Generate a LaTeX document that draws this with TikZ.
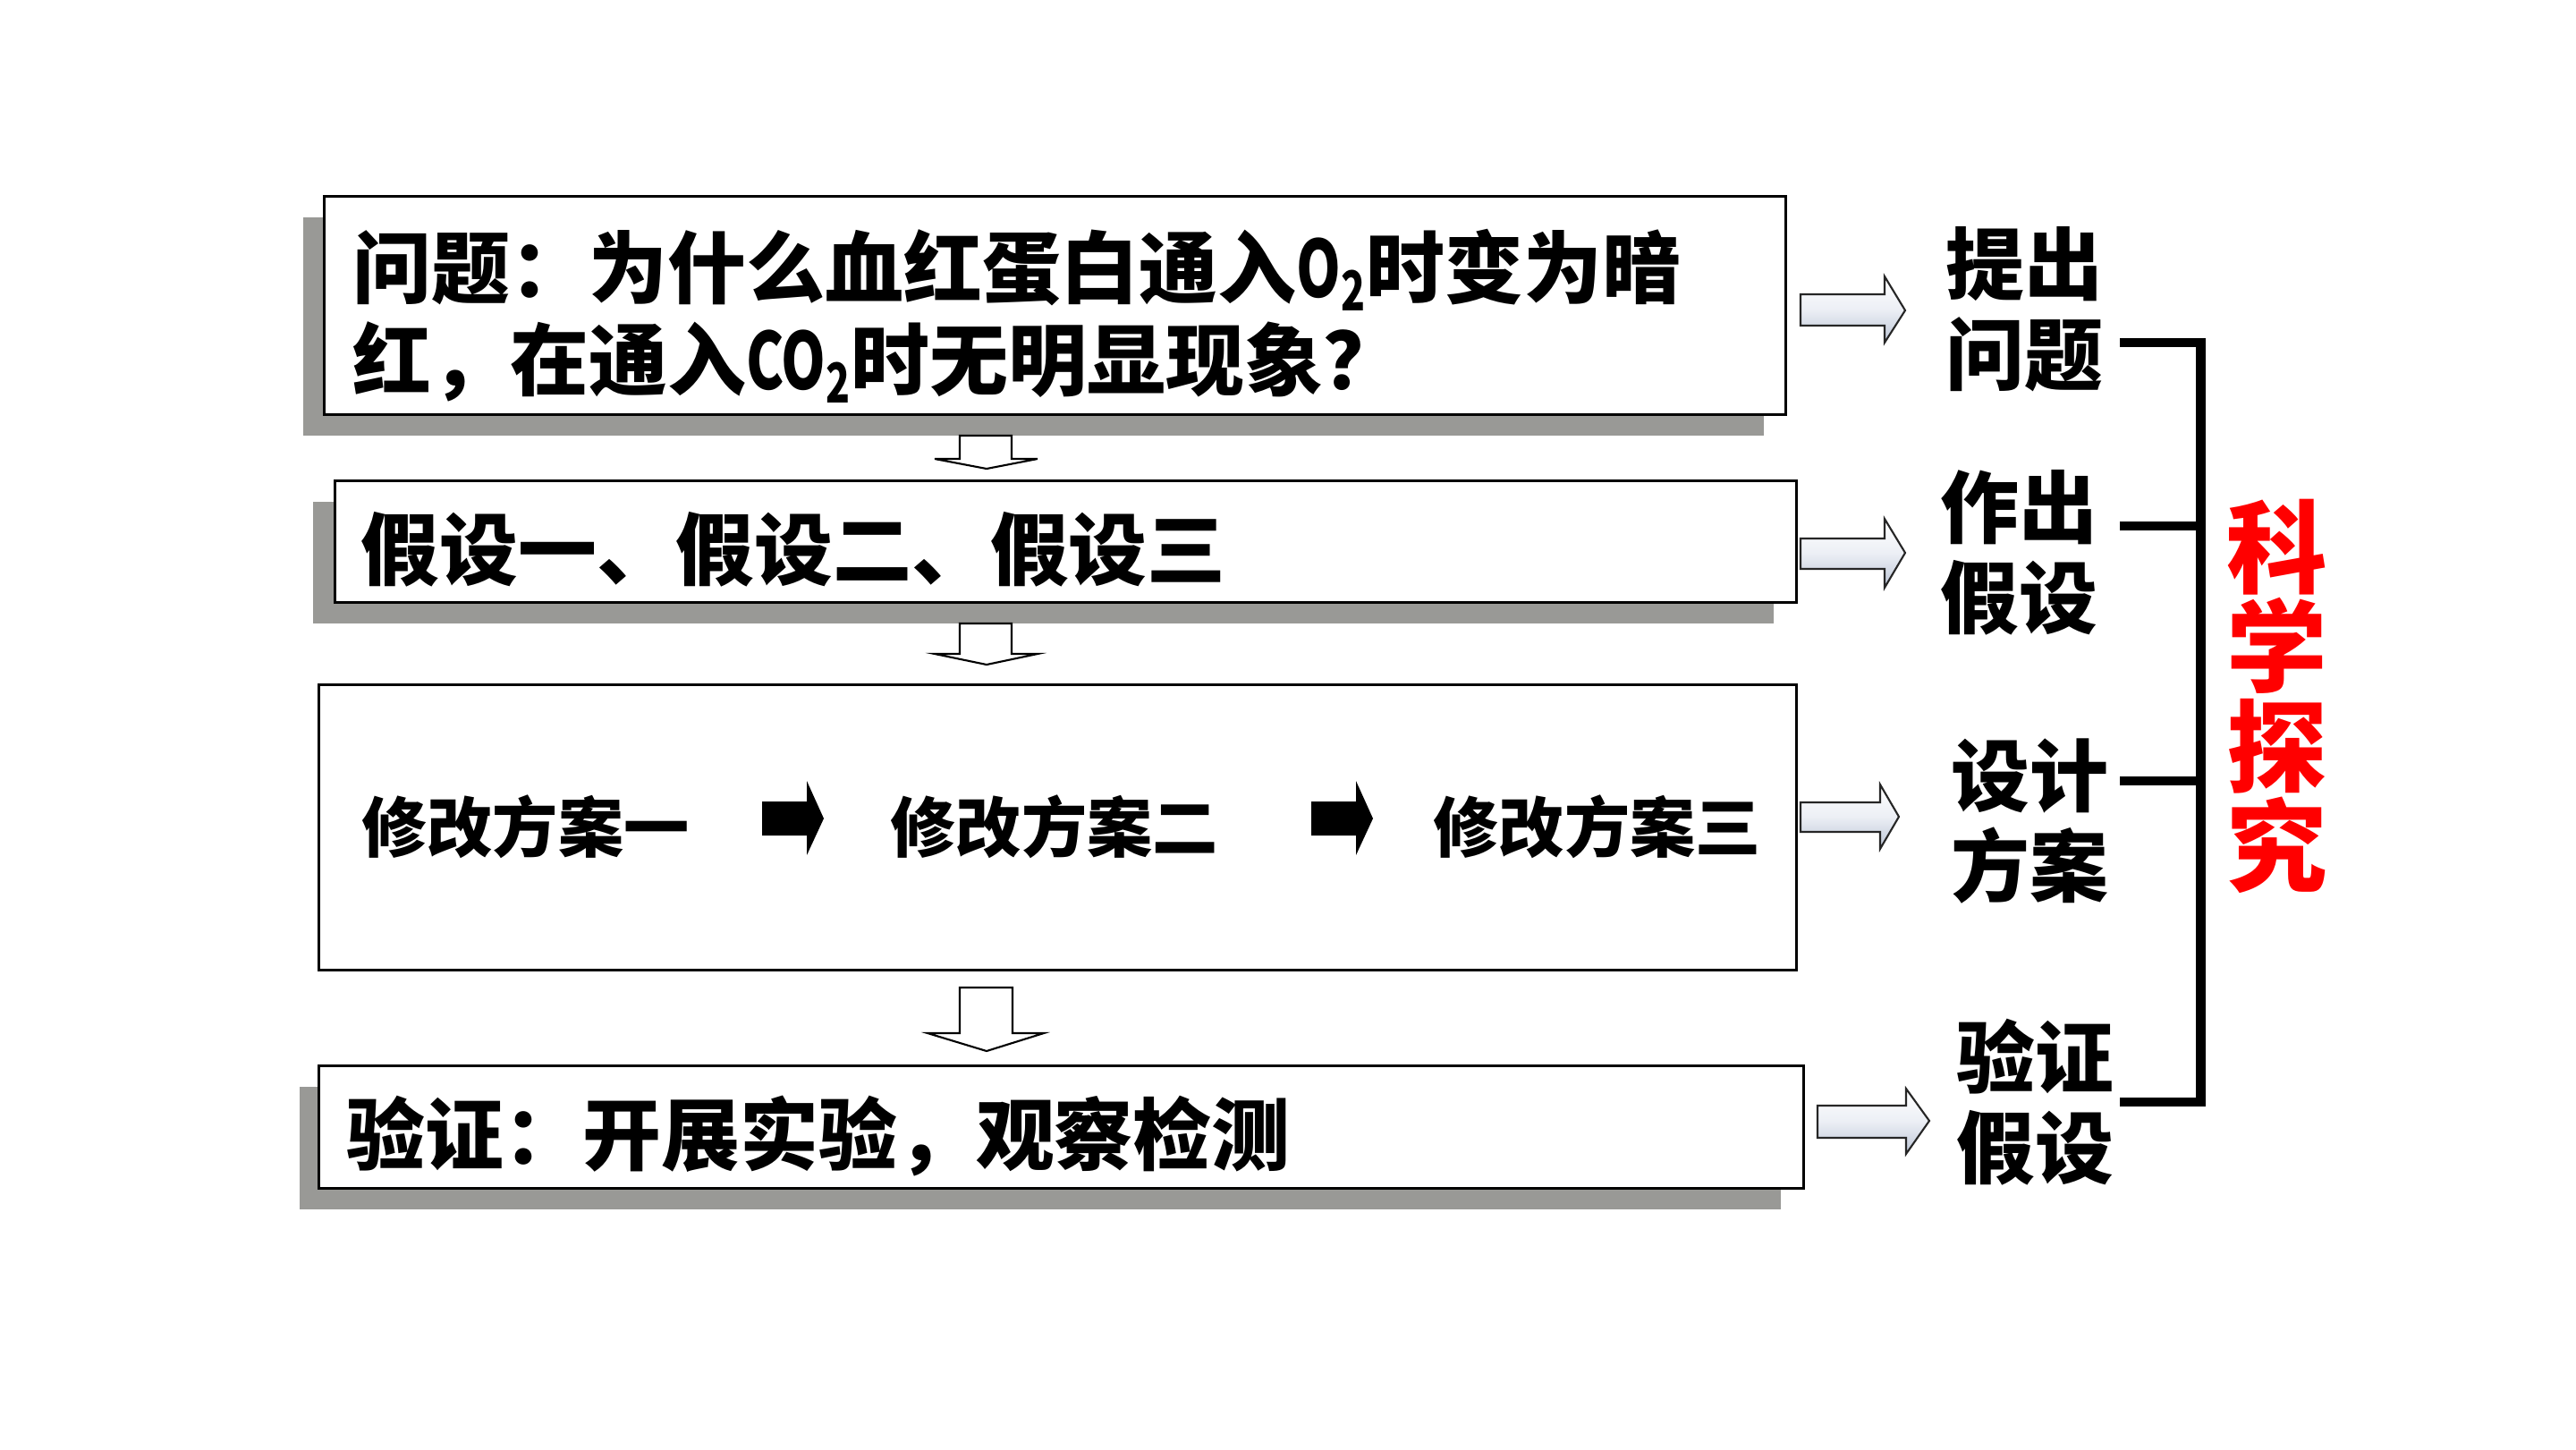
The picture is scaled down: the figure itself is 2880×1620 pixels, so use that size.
\documentclass[tikz,border=0pt]{standalone}
\usepackage{fontspec}
\usepackage{graphicx}
\setmainfont{Noto Sans CJK SC}
\definecolor{shadowgray}{RGB}{153,153,150}
\definecolor{arrowblue}{RGB}{188,197,214}
\definecolor{arrowmid}{RGB}{236,239,245}
\definecolor{scired}{RGB}{255,0,0}
\newcommand\narrowlatin[1]{\scalebox{0.72}[1]{#1}}
\begin{document}
\begin{tikzpicture}[x=0.01cm,y=-0.01cm,
  box/.style={draw=black,line width=0.85pt,fill=white,inner sep=0pt},
  shadowrect/.style={fill=shadowgray},
  btext/.style={font=\fontsize{25}{29.3}\selectfont\bfseries,inner sep=0pt,align=left},
  stext/.style={font=\fontsize{20.8}{24}\selectfont\bfseries,inner sep=0pt},
  rlab/.style={font=\fontsize{25}{28.7}\selectfont\bfseries,inner sep=0pt,align=left},
  redlab/.style={font=\fontsize{32}{31.7}\selectfont\bfseries,text=scired,inner sep=0pt,align=center},
  downarr/.style={draw=black,line width=0.6pt,fill=white,line join=miter},
  rightarr/.style={draw=black!85,line width=0.6pt,top color=white,bottom color=arrowblue,middle color=arrowmid,line join=miter},
  blackarr/.style={fill=black},
  bracket/.style={draw=black,line width=3.1pt,line join=miter,line cap=butt}]
\useasboundingbox[fill=white] (0,0) rectangle (2880,1620);

% shadows
\fill[shadowrect] (339,243) rectangle (1972,487);
\fill[shadowrect] (350,561) rectangle (1983,697);
\fill[shadowrect] (335,1215) rectangle (1991,1352);

% boxes
\node[box,minimum width=16.33cm,minimum height=2.43cm] (b1) at (1179.5,341.5) {};
\node[box,minimum width=16.33cm,minimum height=1.35cm] (b2) at (1191.5,605.5) {};
\node[box,minimum width=16.51cm,minimum height=3.18cm] (b3) at (1182.5,925) {};
\node[box,minimum width=16.59cm,minimum height=1.36cm] (b4) at (1186.5,1260) {};

% box texts
\node[btext,anchor=north west] (t1) at (394,255) {问题：为什么血红蛋白通入\narrowlatin{O\textsubscript{2}}时变为暗\\红，在通入\narrowlatin{CO\textsubscript{2}}时无明显现象？};
\node[btext,anchor=base west] (t2) at (403,647) {假设一、假设二、假设三};
\node[btext,anchor=base west] (t4) at (387,1301) {验证：开展实验，观察检测};

% scheme texts
\node[stext,anchor=base west] (s1) at (404,952) {修改方案一};
\node[stext,anchor=base west] (s2) at (995,952) {修改方案二};
\node[stext,anchor=base west] (s3) at (1602,952) {修改方案三};

% black arrows
\path[blackarr] (852,896) -- (902,896) -- (902,873) -- (921,915) -- (902,956) -- (902,934) -- (852,934) -- cycle;
\path[blackarr] (1466,896) -- (1516,896) -- (1516,873) -- (1535,915) -- (1516,956) -- (1516,934) -- (1466,934) -- cycle;

% down arrows
\draw[downarr] (1073,487) -- (1131,487) -- (1131,513) -- (1160,513) -- (1103,524) -- (1045,513) -- (1073,513) -- cycle;
\draw[downarr] (1073,697) -- (1131,697) -- (1131,731) -- (1160,731) -- (1103,743) -- (1045,731) -- (1073,731) -- cycle;
\draw[downarr] (1073,1104) -- (1132,1104) -- (1132,1155) -- (1167,1155) -- (1103,1175) -- (1037,1155) -- (1073,1155) -- cycle;

% right arrows
\draw[rightarr] (2013,329) -- (2107,329) -- (2107,309) -- (2130,347) -- (2107,383) -- (2107,364) -- (2013,364) -- cycle;
\draw[rightarr] (2013,602) -- (2107,602) -- (2107,580) -- (2130,618) -- (2107,657) -- (2107,636) -- (2013,636) -- cycle;
\draw[rightarr] (2013,897) -- (2102,897) -- (2102,877) -- (2123,913) -- (2102,949) -- (2102,930) -- (2013,930) -- cycle;
\draw[rightarr] (2032,1236) -- (2131,1236) -- (2131,1217) -- (2157,1253) -- (2131,1290) -- (2131,1272) -- (2032,1272) -- cycle;

% right labels
\node[rlab,anchor=north west] (l1) at (2175,253) {提出\\问题};
\node[rlab,anchor=north west] (l2) at (2169,525) {作出\\假设};
\node[rlab,anchor=north west] (l3) at (2181,825) {设计\\方案};
\node[rlab,anchor=north west] (l4) at (2187,1138) {验证\\假设};

% bracket
\coordinate (k1) at (2370,383);
\coordinate (k2) at (2370,588);
\coordinate (k3) at (2370,873);
\coordinate (k4) at (2370,1232);
\coordinate (v1) at (2460.5,383);
\coordinate (v4) at (2460.5,1232);
\draw[bracket] (k1) -- (v1) -- (v4) -- (k4);
\draw[bracket] (k2) -- (k2 -| v1);
\draw[bracket] (k3) -- (k3 -| v1);

% red label
\node[redlab,anchor=north] (sci) at (2546,557) {科\\学\\探\\究};
\end{tikzpicture}
\end{document}
